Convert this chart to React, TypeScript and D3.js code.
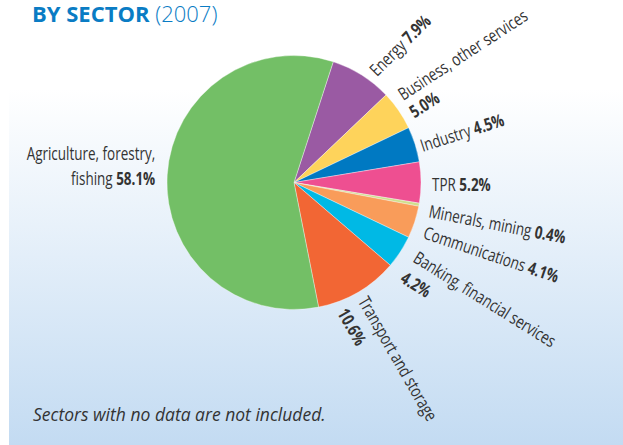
import React from "react";
import * as d3 from "d3";

const sectors = [
  "Energy",
  "Business, other services",
  "Industry",
  "TPR",
  "Minerals, mining",
  "Communications",
  "Banking, financial services",
  "Transport and storage",
  "Agriculture, forestry, fishing",
];
const shares = [7.9, 5.0, 4.5, 5.2, 0.4, 4.1, 4.2, 10.6, 58.1];
const sliceColors = [
  "#9a5aa3",
  "#fed35b",
  "#0079c2",
  "#ee4f91",
  "#cfdf8d",
  "#f99c5a",
  "#00b9e5",
  "#f26634",
  "#73bf66",
];
const titleMain = "BY SECTOR";
const titleYear = "(2007)";
const footnote = "Sectors with no data are not included.";

// label layout (annotation placement only)
type Lay = { breakAfter: number | null; valueNewLine: boolean; rot: number; dx: number; dy: number; gap: number; anchor: string };
const labelLayout: Lay[] = [
  { breakAfter: null, valueNewLine: false, rot: -45, dx: 11, dy: 9, gap: 0, anchor: "start" },
  { breakAfter: null, valueNewLine: true, rot: -33, dx: -2, dy: -5, gap: 21, anchor: "start" },
  { breakAfter: null, valueNewLine: false, rot: -18, dx: 0, dy: 10, gap: 0, anchor: "start" },
  { breakAfter: null, valueNewLine: false, rot: 0, dx: 3, dy: 8.5, gap: 0, anchor: "start" },
  { breakAfter: null, valueNewLine: false, rot: 11, dx: 1, dy: 11, gap: 0, anchor: "start" },
  { breakAfter: null, valueNewLine: false, rot: 18.5, dx: 0, dy: 13.5, gap: 0, anchor: "start" },
  { breakAfter: null, valueNewLine: true, rot: 32, dx: 5, dy: 5, gap: 24, anchor: "start" },
  { breakAfter: null, valueNewLine: true, rot: 60, dx: -4.4, dy: 2, gap: 24, anchor: "start" },
  { breakAfter: 2, valueNewLine: false, rot: 0, dx: -4, dy: -14.4, gap: 25, anchor: "end" },
];

const W = 623;
const H = 445;
const cx = 294;
const cy = 182.5;
const R = 127;
const labelFont = "'Open Sans', 'Noto Sans', sans-serif";
const labelScale = 0.77;
const textColor = "#333333";

export default function App() {
  const start = (18 * Math.PI) / 180;
  const pie = d3
    .pie<number>()
    .sort(null)
    .value((d) => d)
    .startAngle(start)
    .endAngle(start + 2 * Math.PI);
  const arcs = pie(shares);
  const arc = d3.arc<d3.PieArcDatum<number>>().innerRadius(0).outerRadius(R);
  const fmt = (v: number) => `${d3.format(".1f")(v)}%`;

  return (
    <svg width={W} height={H} style={{ position: "absolute", left: 0, top: 0 }}>
      <defs>
        <linearGradient id="bg" x1="0" y1="0" x2="0" y2={H} gradientUnits="userSpaceOnUse">
          <stop offset="0.2" stopColor="#ffffff" />
          <stop offset="1" stopColor="#c3dbf2" />
        </linearGradient>
      </defs>
      <rect x={0} y={0} width={W} height={H} fill="#ffffff" />
      <rect x={9} y={0} width={W - 9} height={H} fill="url(#bg)" />
      <text x={32} y={22} fontFamily="'Open Sans', sans-serif" fontSize={22} fill="#0a7cc4">
        <tspan fontWeight={700}>{titleMain}</tspan>
        <tspan fontWeight={300}> {titleYear}</tspan>
      </text>
      <g transform={`translate(${cx},${cy})`}>
        {arcs.map((a, i) => (
          <path key={i} d={arc(a) || ""} fill={sliceColors[i]} stroke="#ffffff" strokeOpacity={0.6} strokeWidth={0.6} />
        ))}
      </g>
      {arcs.map((a, i) => {
        const L = labelLayout[i];
        const mid = (a.startAngle + a.endAngle) / 2;
        const x = cx + (R + 8) * Math.sin(mid) + L.dx;
        const y = cy - (R + 8) * Math.cos(mid) + L.dy;
        const words = sectors[i].split(" ");
        const val = fmt(shares[i]);
        let lines: { name: string; value: string }[];
        if (L.breakAfter !== null) {
          lines = [
            { name: words.slice(0, L.breakAfter).join(" "), value: "" },
            { name: words.slice(L.breakAfter).join(" ") + " ", value: val },
          ];
        } else if (L.valueNewLine) {
          lines = [
            { name: sectors[i], value: "" },
            { name: "", value: val },
          ];
        } else {
          lines = [{ name: sectors[i] + " ", value: val }];
        }
        return (
          <g key={i} transform={`translate(${x},${y}) rotate(${L.rot}) scale(${labelScale},1)`}>
            {lines.map((ln, j) => (
              <text
                key={j}
                x={0}
                y={j * L.gap}
                textAnchor={L.anchor}
                fontFamily={labelFont}
                fontSize={17.5}
                fill={textColor}
                style={{ whiteSpace: "pre" }}
              >
                {ln.name && <tspan>{ln.name}</tspan>}
                {ln.value && <tspan fontWeight={700}>{ln.value}</tspan>}
              </text>
            ))}
          </g>
        );
      })}
      <text x={33} y={421} fontFamily="'Open Sans', sans-serif" fontStyle="italic" fontSize={17.5} fill={textColor}>
        {footnote}
      </text>
    </svg>
  );
}
